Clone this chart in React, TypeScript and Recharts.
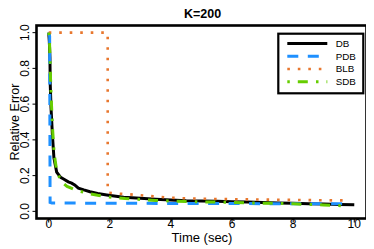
import React from 'react';
import { LineChart, Line, XAxis, YAxis, Customized } from 'recharts';

const DB_T = [0, 0.02, 0.04, 0.05, 0.075, 0.12, 0.17, 0.26, 0.39, 0.5, 0.64, 0.75, 0.85, 0.97, 1.15, 1.35, 1.6, 1.9, 2.2, 2.45, 3.0, 3.5, 4.0, 4.5, 5, 5.5, 6, 6.5, 7, 7.5, 8, 8.5, 9, 9.5, 10];
const DB_V = [1.0, 0.95, 0.86, 0.71, 0.58, 0.43, 0.3, 0.22, 0.19, 0.18, 0.165, 0.158, 0.148, 0.13, 0.12, 0.11, 0.1, 0.092, 0.085, 0.079, 0.073, 0.068, 0.064, 0.06, 0.058, 0.056, 0.054, 0.052, 0.05, 0.047, 0.045, 0.043, 0.041, 0.039, 0.037];

const PDB_T = [0, 0.03, 0.045, 0.1, 1, 2, 3, 4, 5, 6, 7, 8, 9, 9.8];
const PDB_V = [1.0, 0.98, 0.05, 0.047, 0.046, 0.045, 0.045, 0.044, 0.044, 0.044, 0.043, 0.043, 0.042, 0.042];

const BLB_T = [0, 1.93, 1.93, 2.2, 2.6, 3, 3.5, 4, 4.5, 5, 5.5, 6, 7, 8, 9, 9.75];
const BLB_V = [1.0, 1.0, 0.105, 0.1, 0.096, 0.09, 0.083, 0.076, 0.073, 0.071, 0.069, 0.068, 0.066, 0.064, 0.062, 0.061];

const SDB_T = [0, 0.02, 0.04, 0.06, 0.09, 0.13, 0.18, 0.25, 0.35, 0.45, 0.6, 0.8, 1.0, 1.3, 1.6, 2.0, 2.5, 3, 3.5, 4, 5, 6, 7, 8, 9, 9.7];
const SDB_V = [1.0, 0.97, 0.88, 0.74, 0.6, 0.45, 0.32, 0.24, 0.19, 0.16, 0.14, 0.125, 0.113, 0.1, 0.09, 0.08, 0.072, 0.066, 0.061, 0.058, 0.053, 0.05, 0.046, 0.042, 0.036, 0.031];

const X_TICKS = [0, 2, 4, 6, 8, 10];
const Y_TICKS = [0, 0.2, 0.4, 0.6, 0.8, 1.0];

const SERIES_NAMES = ['DB', 'PDB', 'BLB', 'SDB'];

const toData = (ts: number[], vs: number[]) => ts.map((t, i) => ({ t, v: vs[i] }));

const dbData = toData(DB_T, DB_V);
const pdbData = toData(PDB_T, PDB_V);
const blbData = toData(BLB_T, BLB_V);
const sdbData = toData(SDB_T, SDB_V);

const FONT = '"Liberation Sans", Arial, Helvetica, sans-serif';

const STYLES = [
  { color: '#000000', width: 3, dash: undefined as string | undefined },
  { color: '#1E90FF', width: 3, dash: '11 9.5' },
  { color: '#E8772E', width: 2.6, dash: '2.6 7.9' },
  { color: '#66CD00', width: 3, dash: '2.5 8 10 8.2' },
];

const XTick = (props: any) => {
  const { x, payload } = props;
  return (
    <text x={x} y={220} textAnchor="middle" fontSize={12} fontFamily={FONT} fill="#000">
      {String(payload.value)}
    </text>
  );
};

const YTick = (props: any) => {
  const { y, payload } = props;
  const bx = 21.5;
  return (
    <text
      x={bx}
      y={y}
      transform={`rotate(-90, ${bx}, ${y})`}
      textAnchor="middle"
      fontSize={12}
      fontFamily={FONT}
      fill="#000"
    >
      {Number(payload.value).toFixed(1)}
    </text>
  );
};

const Decorations = () => {
  const lx1 = 279.3;
  const lx2 = 319.3;
  const rows = [35.5, 48.2, 61, 73.7];
  return (
    <g>
      <rect x={28.5} y={17.5} width={330} height={193} fill="none" stroke="#000" strokeWidth={2.6} />
      <text x={194.5} y={10} textAnchor="middle" fontSize={12.5} fontWeight="bold" fontFamily={FONT} fill="#000">
        K=200
      </text>
      <text x={194} y={233.5} textAnchor="middle" fontSize={13} fontFamily={FONT} fill="#000">
        Time (sec)
      </text>
      <text x={11} y={114} transform="rotate(-90, 11, 114)" textAnchor="middle" fontSize={12.6} fontFamily={FONT} fill="#000">
        Relative Error
      </text>
      <rect x={270.3} y={25.7} width={85} height={59.6} fill="#fff" stroke="#000" strokeWidth={2.2} />
      {SERIES_NAMES.map((name, i) => (
        <g key={name}>
          <line
            x1={lx1}
            x2={lx2}
            y1={rows[i]}
            y2={rows[i]}
            stroke={STYLES[i].color}
            strokeWidth={STYLES[i].width}
            strokeDasharray={STYLES[i].dash}
            strokeLinecap="butt"
          />
          <text x={327.7} y={rows[i]} dy="0.35em" fontSize={9.8} fontFamily={FONT} fill="#000">
            {name}
          </text>
        </g>
      ))}
    </g>
  );
};

export default function App() {
  return (
    <LineChart width={366} height={241} margin={{ top: 17.5, right: 7.5, left: 0, bottom: 0 }}>
      <XAxis
        type="number"
        dataKey="t"
        domain={[-0.4, 10.4]}
        ticks={X_TICKS}
        allowDataOverflow
        height={30.5}
        axisLine={false}
        tickSize={4}
        tickLine={{ stroke: '#000', strokeWidth: 1 }}
        tick={<XTick />}
        interval={0}
      />
      <YAxis
        type="number"
        dataKey="v"
        domain={[-0.04, 1.04]}
        ticks={Y_TICKS}
        allowDataOverflow
        width={28.5}
        axisLine={false}
        tickSize={4}
        tickLine={{ stroke: '#000', strokeWidth: 1 }}
        tick={<YTick />}
        interval={0}
      />
      <Line data={dbData} dataKey="v" type="linear" stroke={STYLES[0].color} strokeWidth={STYLES[0].width} dot={false} activeDot={false} isAnimationActive={false} />
      <Line data={pdbData} dataKey="v" type="linear" stroke={STYLES[1].color} strokeWidth={STYLES[1].width} strokeDasharray={STYLES[1].dash} dot={false} activeDot={false} isAnimationActive={false} />
      <Line data={blbData} dataKey="v" type="linear" stroke={STYLES[2].color} strokeWidth={STYLES[2].width} strokeDasharray={STYLES[2].dash} dot={false} activeDot={false} isAnimationActive={false} />
      <Line data={sdbData} dataKey="v" type="linear" stroke={STYLES[3].color} strokeWidth={STYLES[3].width} strokeDasharray={STYLES[3].dash} dot={false} activeDot={false} isAnimationActive={false} />
      <Customized component={<Decorations />} />
    </LineChart>
  );
}
